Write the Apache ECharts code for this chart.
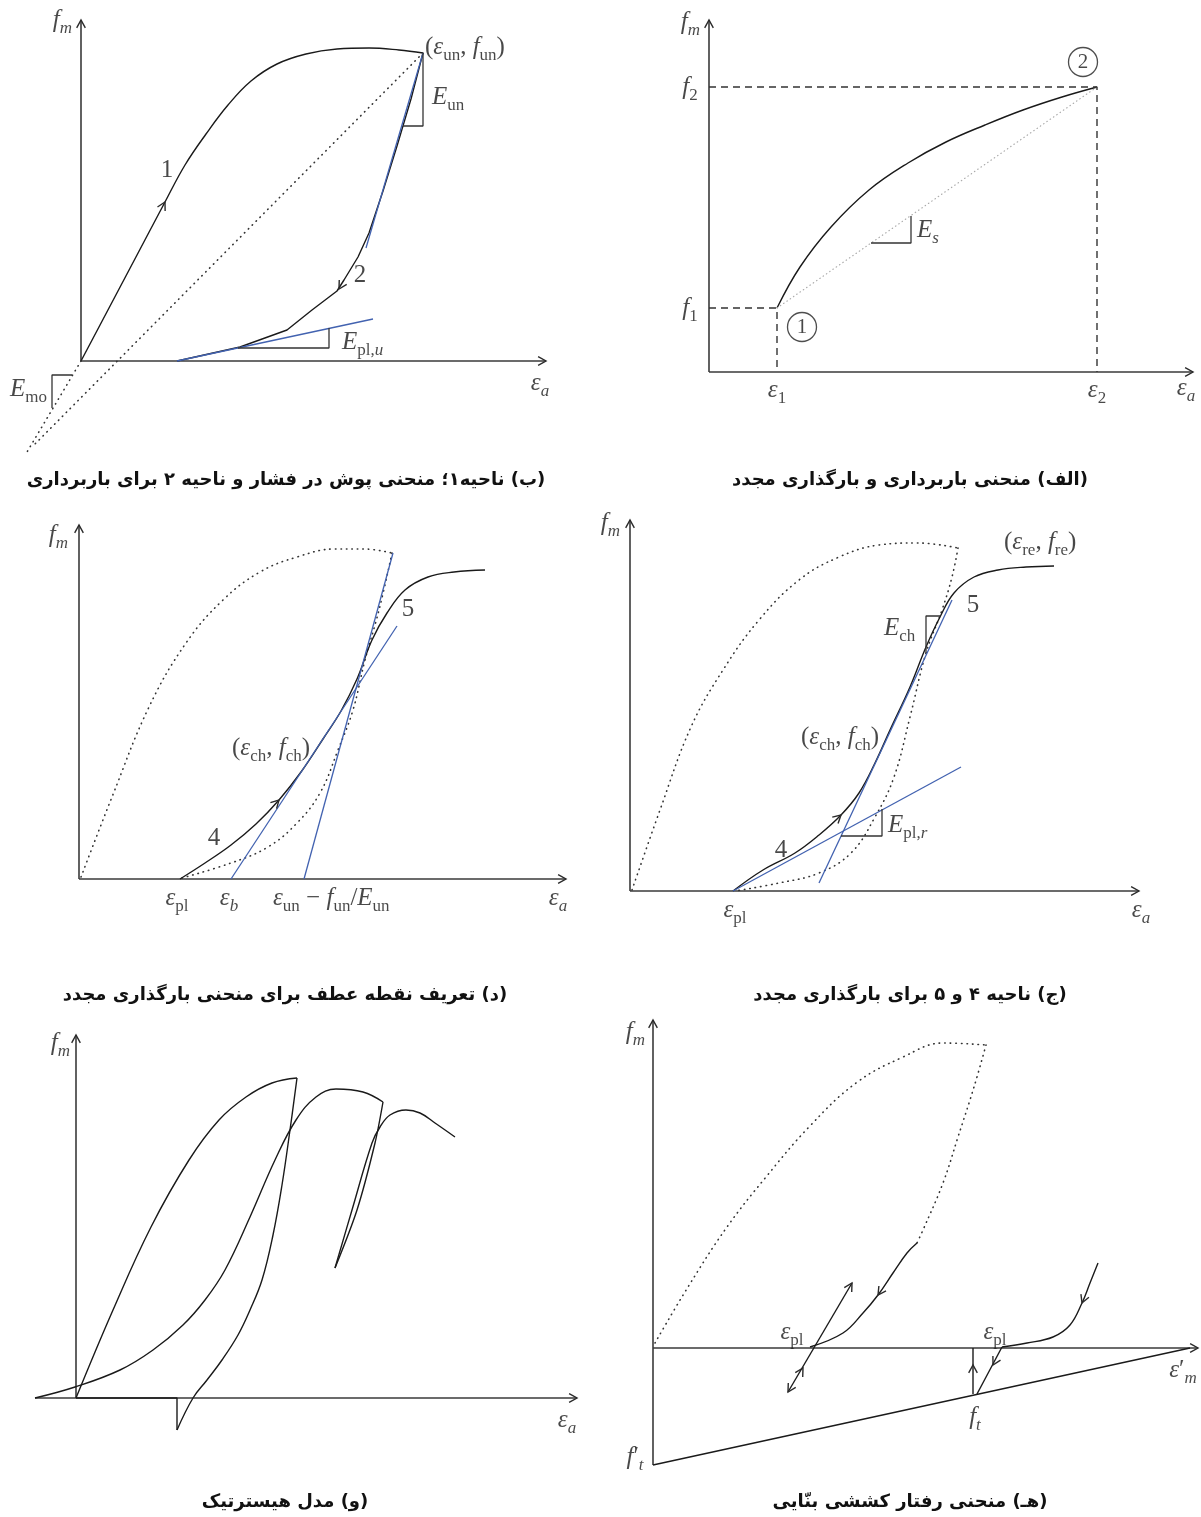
<!DOCTYPE html>
<html><head><meta charset="utf-8">
<script src="https://cdn.jsdelivr.net/npm/echarts@6/dist/echarts.min.js"></script>
<style>html,body{margin:0;padding:0;background:#fff}#c{width:1201px;height:1517px}</style>
</head><body><div id="c"></div>
<script>
// ---------- Panel ب (unloading) ----------
const bAxisX = [[0,0],[465,0]];
const bAxisY = [[0,0],[0,341]];
const bEnvelope = [[0,0],[28,53],[56,106],[84,159],[104,196],[125,227],[147,256],[170,280],[196,297],[225,307],[256,312],[288,313],[318,311],[342,308]];
const bUnload = [[342,308],[330,262],[316,215],[302,170],[288,128],[277,104],[263,81],[256,70],[231,51],[206,31],[159,14],[96,0]];
const bSecant = [[342,308],[-49,-86]];
const bEmo = [[0,0],[-54,-91]];
const bTangentUn = [[342,308],[285,113]];
const bTangentPl = [[96,0],[292,42]];
const bTriUn = [[342,308],[342,235],[322,235]];
const bTriPl = [[157,13],[248,13],[248,33]];
const bTriMo = [[-9,-14],[-29,-14],[-29,-47]];
const bArrows = [[465,0,1,0],[0,341,0,1],[84,159,84,159],[258,72,-7,-12]];
const bLabels = [
  [-9,341,'{i|f}{si|m}','right'],
  [459,-22,'{i|ε}{si|a}','center'],
  [344,314,'{r|(}{i|ε}{s|un}{r|, }{i|f}{s|un}{r|)}','left'],
  [351,264,'{i|E}{s|un}','left'],
  [261,19,'{i|E}{s|pl,}{si|u}','left'],
  [-34,-28,'{i|E}{s|mo}','right'],
  [86,191,'{r|1}','center'],
  [279,86,'{r|2}','center']
];
// ---------- Panel الف (loading/reloading) ----------
const aAxisX = [[0,0],[484,0]];
const aAxisY = [[0,0],[0,352]];
const aCurve = [[68,64],[91,105],[122,145],[160,182],[199,209],[237,230],[276,247],[314,262],[353,275],[388,285]];
const aSecant = [[68,64],[388,285]];
const aDashF2 = [[0,285],[388,285],[388,0]];
const aDashF1 = [[0,64],[68,64],[68,0]];
const aTriEs = [[162,129],[202,129],[202,156]];
const aCircles = [[93,45,'1'],[374,310,'2']];
const aArrows = [[484,0,1,0],[0,352,0,1]];
const aLabels = [
  [-9,350,'{i|f}{si|m}','right'],
  [-19,285,'{i|f}{s|2}','center'],
  [-19,64,'{i|f}{s|1}','center'],
  [68,-18,'{i|ε}{s|1}','center'],
  [388,-18,'{i|ε}{s|2}','center'],
  [477,-16,'{i|ε}{si|a}','center'],
  [208,142,'{i|E}{si|s}','left']
];
// ---------- Panel د (inflection point) ----------
const dAxisX = [[0,0],[487,0]];
const dAxisY = [[0,0],[0,354]];
const dEnvelope = [[2,2],[33,82],[70,172],[107,236],[144,279],[181,307],[218,322],[256,330],[285,330],[313,326]];
const dUnload = [[313,326],[300,269],[286,219],[274,169],[259,129],[241,86],[218,56],[189,32],[152,16],[103,1]];
const dReload = [[101,0],[126,16],[152,34],[177,55],[200,79],[222,107],[244,140],[262,168],[278,200],[293,239],[308,266],[326,289],[349,302],[375,307],[406,309]];
const dTangentCh = [[152,0],[318,253]];
const dTangentUn = [[225,0],[314,326]];
const dArrows = [[487,0,1,0],[0,354,0,1],[200,79,37,38]];
const dLabels = [
  [-11,344,'{i|f}{si|m}','right'],
  [479,-19,'{i|ε}{si|a}','center'],
  [135,41,'{r|4}','center'],
  [329,270,'{r|5}','center'],
  [153,131,'{r|(}{i|ε}{s|ch}{r|, }{i|f}{s|ch}{r|)}','left'],
  [98,-19,'{i|ε}{s|pl}','center'],
  [150,-19,'{i|ε}{si|b}','center'],
  [194,-19,'{i|ε}{s|un}{r| − }{i|f}{s|un}{r|/}{i|E}{s|un}','left']
];
// ---------- Panel ج (regions 4 and 5) ----------
const cAxisX = [[0,0],[509,0]];
const cAxisY = [[0,0],[0,371]];
const cEnvelope = [[2,1],[30,81],[61,164],[93,221],[129,271],[169,311],[209,334],[249,346],[288,348],[328,343]];
const cUnload = [[328,343],[322,314],[312,281],[296,238],[280,174],[264,114],[245,74],[221,38],[189,18],[149,8],[105,0]];
const cReload = [[103,0],[133,21],[165,38],[189,56],[211,76],[229,98],[245,128],[260,161],[280,204],[296,244],[310,274],[324,298],[344,314],[368,321],[396,324],[424,325]];
const cTangentCh = [[189,8],[322,291]];
const cTangentPl = [[103,0],[331,124]];
const cTriCh = [[310,275],[296,275],[296,238]];
const cTriPl = [[211,55],[252,55],[252,82]];
const cArrows = [[509,0,1,0],[0,371,0,1],[211,76,22,20]];
const cLabels = [
  [-10,368,'{i|f}{si|m}','right'],
  [511,-19,'{i|ε}{si|a}','center'],
  [374,349,'{r|(}{i|ε}{s|re}{r|, }{i|f}{s|re}{r|)}','left'],
  [343,286,'{r|5}','center'],
  [254,263,'{i|E}{s|ch}','left'],
  [171,154,'{r|(}{i|ε}{s|ch}{r|, }{i|f}{s|ch}{r|)}','left'],
  [258,66,'{i|E}{s|pl,}{si|r}','left'],
  [151,41,'{r|4}','center'],
  [105,-19,'{i|ε}{s|pl}','center']
];
// ---------- Panel و (hysteretic model) ----------
const fAxisX = [[-41,0],[501,0]];
const fAxisY = [[0,0],[0,363]];
const fLoad1 = [[0,0],[37,88],[75,171],[113,238],[143,278],[170,301],[196,315],[221,320]];
const fUnload1 = [[221,320],[214,268],[206,213],[197,163],[186,118],[174,88],[162,63],[146,38],[131,18],[117,0],[101,-32]];
const fCrack = [[101,-32],[101,0],[0,0]];
const fReload1 = [[-41,0],[-1,11],[44,28],[77,48],[107,73],[129,98],[149,128],[174,181],[199,238],[220,278],[240,301],[260,309],[287,306],[307,296]];
const fUnload2 = [[307,296],[299,255],[281,188],[259,130]];
const fReload2 = [[259,130],[276,188],[296,255],[304,271],[314,283],[330,288],[344,285],[359,275],[379,261]];
const fArrows = [[501,0,1,0],[0,363,0,1]];
const fLabels = [
  [-6,355,'{i|f}{si|m}','right'],
  [491,-22,'{i|ε}{si|a}','center']
];
// ---------- Panel هـ (tension) ----------
const eAxisX = [[0,0],[545,0]];
const eAxisY = [[0,-117],[0,328]];
const eSoftening = [[0,-117],[537,0]];
const eEnvelope = [[2,5],[35,61],[74,121],[113,171],[156,221],[203,265],[250,291],[290,305],[333,303]];
const eDescend = [[333,303],[321,261],[305,211],[290,165],[270,118],[264,105]];
const eUnload1 = [[264,105],[254,95],[240,75],[225,53],[210,35],[190,15],[157,1]];
const eStrut = [[135,-44],[199,65]];
const eRise = [[320,-46],[320,0]];
const eDrop = [[324,-46],[349,1]];
const eUnload2 = [[349,1],[374,5],[400,11],[417,23],[429,45],[437,65],[445,85]];
const eArrows = [[545,0,1,0],[0,328,0,1],[225,53,-15,-22],[199,65,64,109],[135,-44,-64,-109],[150,-20,64,109],[320,-17,0,1],[340,-17,-25,-47],[429,45,-8,-20]];
const eLabels = [
  [-8,316,'{i|f}{si|m}','right'],
  [-18,-109,'{i|f}{r|′}{si|t}','center'],
  [530,-22,'{i|ε}{r|′}{si|m}','center'],
  [322,-69,'{i|f}{si|t}','center'],
  [139,16,'{i|ε}{s|pl}','center'],
  [342,16,'{i|ε}{s|pl}','center']
];
// ---------- captions ----------
const captionTexts = [
  '(ب) ناحیه۱؛ منحنی پوش در فشار و ناحیه ۲ برای باربرداری',
  '(الف) منحنی باربرداری و بارگذاری مجدد',
  '(د) تعریف نقطه عطف برای منحنی بارگذاری مجدد',
  '(ج) ناحیه ۴ و ۵ برای بارگذاری مجدد',
  '(و) مدل هیسترتیک',
  '(هـ) منحنی رفتار کششی بنّایی'
];

// ---------- layout / styles ----------
const frames = [
  {ox:81, oy:361, xmin:-75, xmax:470, ymin:-100, ymax:345},
  {ox:709, oy:372, xmin:-30, xmax:490, ymin:-30, ymax:355},
  {ox:79, oy:879, xmin:-30, xmax:490, ymin:-30, ymax:357},
  {ox:630, oy:891, xmin:-30, xmax:512, ymin:-30, ymax:373},
  {ox:76, oy:1398, xmin:-45, xmax:505, ymin:-40, ymax:366},
  {ox:653, oy:1348, xmin:-30, xmax:548, ymin:-120, ymax:331}
];
const captionPos = [[281,478],[905,478],[280,993],[905,993],[280,1500],[905,1500]];
const SERIF = '"Liberation Serif","DejaVu Serif",serif';
const TXT = '#1a1a1a';
const RICH = {
  i: {fontFamily:SERIF, fontStyle:'italic', fontSize:25, lineHeight:25, verticalAlign:'top', color:TXT},
  r: {fontFamily:SERIF, fontSize:25, lineHeight:25, verticalAlign:'top', color:TXT},
  s: {fontFamily:SERIF, fontSize:17, lineHeight:17, padding:[13,0,0,0], verticalAlign:'top', color:TXT},
  si: {fontFamily:SERIF, fontStyle:'italic', fontSize:17, lineHeight:17, padding:[13,0,0,0], verticalAlign:'top', color:TXT}
};
const AX = {color:'#3a3a3a', width:1.6};
const BK = {color:'#1a1a1a', width:1.4};
const BL = {color:'#4262b0', width:1.3};
const DOT = {color:'#333', width:1.6, type:[0.5,5], cap:'round'};
const DOTL = {color:'#aaa', width:1.2, type:[0.5,3.5], cap:'round'};
const DASH = {color:'#333', width:1.4, type:[7,5]};
const THIN = {color:'#333', width:1.3};

function line(p, data, style, smooth) {
  return {type:'line', xAxisIndex:p, yAxisIndex:p, data:data, smooth:smooth||false, symbol:'none', showSymbol:false,
    clip:false, silent:true, animation:false, lineStyle:style, z:2};
}
function arrows(p, data, color) {
  return {type:'custom', xAxisIndex:p, yAxisIndex:p, silent:true, animation:false, clip:false, z:5,
    dimensions:['x','y','dx','dy'], encode:{x:0,y:1}, data:data,
    renderItem: function(params, api) {
      const x=api.value(0), y=api.value(1), dx=api.value(2), dy=api.value(3);
      const a=api.coord([x,y]), b=api.coord([x+dx,y+dy]);
      let vx=b[0]-a[0], vy=b[1]-a[1]; const L=Math.hypot(vx,vy)||1; vx/=L; vy/=L;
      const len=9, ang=0.5, c=Math.cos(ang), s=Math.sin(ang), bx=-vx, by=-vy;
      const p1=[a[0]+len*(bx*c-by*s), a[1]+len*(bx*s+by*c)];
      const p2=[a[0]+len*(bx*c+by*s), a[1]+len*(-bx*s+by*c)];
      return {type:'polyline', shape:{points:[p1,a,p2]}, style:{stroke:color||'#2a2a2a', lineWidth:1.4, fill:'none'}};
    }};
}
function labels(p, arr) {
  return {type:'scatter', xAxisIndex:p, yAxisIndex:p, symbolSize:1, silent:true, animation:false, clip:false, z:6,
    itemStyle:{color:'rgba(0,0,0,0)'},
    label:{show:true, position:'inside', verticalAlign:'middle', rich:RICH, color:TXT},
    data: arr.map(function(d){ const t=d[2]; return {value:[d[0],d[1]], label:{formatter:function(){return t;}, align:d[3]||'center'}}; })};
}

const series = [];
// ب
series.push(line(0,bAxisX,AX), line(0,bAxisY,AX), line(0,bEnvelope,BK,0.4), line(0,bUnload,BK),
  line(0,bSecant,DOT), line(0,bEmo,DOT), line(0,bTangentUn,BL), line(0,bTangentPl,BL),
  line(0,bTriUn,THIN), line(0,bTriPl,THIN), line(0,bTriMo,THIN), arrows(0,bArrows), labels(0,bLabels));
// الف
series.push(line(1,aAxisX,AX), line(1,aAxisY,AX), line(1,aCurve,BK,0.4), line(1,aSecant,DOTL),
  line(1,aDashF2,DASH), line(1,aDashF1,DASH), line(1,aTriEs,THIN), arrows(1,aArrows), labels(1,aLabels),
  {type:'scatter', xAxisIndex:1, yAxisIndex:1, symbol:'circle', symbolSize:29, silent:true, animation:false, z:6,
   itemStyle:{color:'#fff', borderColor:'#222', borderWidth:1.3},
   label:{show:true, position:'inside', formatter:function(p){return p.value[2];}, fontFamily:SERIF, fontSize:21, color:TXT},
   data:aCircles});
// د
series.push(line(2,dAxisX,AX), line(2,dAxisY,AX), line(2,dEnvelope,DOT,0.4), line(2,dUnload,DOT,0.4),
  line(2,dReload,BK,0.4), line(2,dTangentCh,BL), line(2,dTangentUn,BL), arrows(2,dArrows), labels(2,dLabels));
// ج
series.push(line(3,cAxisX,AX), line(3,cAxisY,AX), line(3,cEnvelope,DOT,0.4), line(3,cUnload,DOT,0.4),
  line(3,cReload,BK,0.4), line(3,cTangentCh,BL), line(3,cTangentPl,BL), line(3,cTriCh,THIN), line(3,cTriPl,THIN),
  arrows(3,cArrows), labels(3,cLabels));
// و
series.push(line(4,fAxisX,AX), line(4,fAxisY,AX), line(4,fLoad1,BK,0.4), line(4,fUnload1,BK,0.4), line(4,fCrack,BK),
  line(4,fReload1,BK,0.4), line(4,fUnload2,BK,0.3), line(4,fReload2,BK,0.4), arrows(4,fArrows), labels(4,fLabels));
// هـ
series.push(line(5,eAxisX,AX), line(5,eAxisY,AX), line(5,eSoftening,BK), line(5,eEnvelope,DOT,0.4), line(5,eDescend,DOT,0.4),
  line(5,eUnload1,BK,0.4), line(5,eStrut,BK), line(5,eRise,BK), line(5,eDrop,BK), line(5,eUnload2,BK,0.4),
  arrows(5,eArrows), labels(5,eLabels));

const option = {
  backgroundColor:'#fff',
  animation:false,
  title: captionTexts.map(function(t,i){ return {text:'\u202B'+t+'\u202C', left:captionPos[i][0], top:captionPos[i][1]-12, textAlign:'center',
    textStyle:{fontFamily:'"DejaVu Sans"', fontWeight:'bold', fontSize:18, color:'#111'}}; }),
  grid: frames.map(function(f){ return {left:f.ox+f.xmin, top:f.oy-f.ymax, width:f.xmax-f.xmin, height:f.ymax-f.ymin, show:false, containLabel:false}; }),
  xAxis: frames.map(function(f,i){ return {type:'value', gridIndex:i, min:f.xmin, max:f.xmax, show:false}; }),
  yAxis: frames.map(function(f,i){ return {type:'value', gridIndex:i, min:f.ymin, max:f.ymax, show:false}; }),
  series: series
};
const chart = echarts.init(document.getElementById('c'), null, {renderer:'canvas'});
chart.setOption(option);
</script></body></html>
